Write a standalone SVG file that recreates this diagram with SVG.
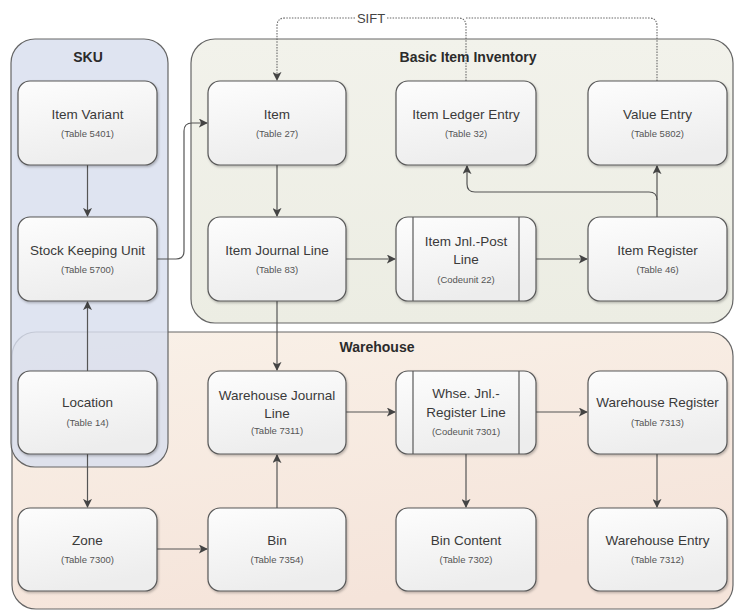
<svg xmlns="http://www.w3.org/2000/svg" width="736" height="612" viewBox="0 0 736 612">
  <defs>
    <linearGradient id="nodeFill" x1="0" y1="0" x2="0.3" y2="1">
      <stop offset="0" stop-color="#fdfdfd"/>
      <stop offset="1" stop-color="#ededed"/>
    </linearGradient>
    <linearGradient id="whseFill" x1="0" y1="0" x2="0.4" y2="1">
      <stop offset="0" stop-color="#f9f1e8"/>
      <stop offset="1" stop-color="#f5e4da"/>
    </linearGradient>
    <linearGradient id="biiFill" x1="0" y1="0" x2="0" y2="1">
      <stop offset="0" stop-color="#f2f2eb"/>
      <stop offset="1" stop-color="#ecede3"/>
    </linearGradient>
    <filter id="shadow" x="-10%" y="-10%" width="125%" height="130%">
      <feDropShadow dx="1" dy="1.5" stdDeviation="1.2" flood-color="#000" flood-opacity="0.25"/>
    </filter>
    <marker id="arrow" viewBox="0 0 10 10" refX="9" refY="5" markerWidth="9" markerHeight="9" markerUnits="userSpaceOnUse" orient="auto">
      <path d="M0,0 L10,5 L0,10 L2.5,5 Z" fill="#444"/>
    </marker>
  </defs>
  <style>
    .group { stroke: #666; stroke-width: 1.2; }
    .node rect.box { fill: url(#nodeFill); stroke: #595959; stroke-width: 1.2; filter: url(#shadow); }
    .node line { stroke: #595959; stroke-width: 1.2; }
    text { font-family: "Liberation Sans", Arial, sans-serif; fill: #3a3a3a; text-anchor: middle; }
    .title { font-size: 13.5px; }
    .sub { font-size: 9.5px; fill: #555; }
    .glabel { font-size: 14px; font-weight: bold; fill: #2b2b2b; }
    .sift { font-size: 13px; fill: #444; }
    .conn path { fill: none; stroke: #555; stroke-width: 1.2; marker-end: url(#arrow); }
    .conn path.plain { marker-end: none; }
    .conn path.dot { stroke: #666; stroke-width: 1.1; stroke-dasharray: 1.5 1.3; }
  </style>

  <!-- containers -->
  <g id="group-warehouse">
    <rect class="group" x="12" y="332" width="721" height="277" rx="24" fill="url(#whseFill)"/>
    <text class="glabel" x="377" y="352">Warehouse</text>
  </g>
  <g id="group-basic-item-inventory">
    <rect class="group" x="191" y="39" width="542" height="284" rx="24" fill="url(#biiFill)"/>
    <text class="glabel" x="468" y="62">Basic Item Inventory</text>
  </g>
  <g id="group-sku">
    <rect class="group" x="11" y="39" width="157" height="428" rx="24" fill="#d8deee" fill-opacity="0.82"/>
    <text class="glabel" x="88" y="62">SKU</text>
  </g>

  <!-- connectors -->
  <g id="connectors" class="conn">
    <path d="M87.5,165 V216"/>
    <path d="M87.5,371 V302"/>
    <path d="M157,259 H176 Q184,259 184,251 V131 Q184,123 192,123 H207"/>
    <path d="M277,165 V216"/>
    <path d="M346,259 H395"/>
    <path d="M536,259 H587"/>
    <path d="M657,217 V166"/>
    <path d="M657,200 Q657,192 649,192 H475 Q467,192 467,184 V166"/>
    <path d="M277,301 V370"/>
    <path d="M346,412 H395"/>
    <path d="M536,412 H587"/>
    <path d="M466,454 V507"/>
    <path d="M657,454 V507"/>
    <path d="M87.5,454 V507"/>
    <path d="M157,549 H207"/>
    <path d="M277,508 V455"/>
    <!-- SIFT dotted links -->
    <path class="dot" d="M355,18 H285 Q277,18 277,26 V80"/>
    <path class="dot plain" d="M387,18 H458 Q466,18 466,26 V81"/>
    <path class="dot plain" d="M466,18 H649 Q657,18 657,26 V81"/>
  </g>
  <text class="sift" x="371" y="22.5">SIFT</text>

  <!-- nodes -->
  <g id="item-variant" class="node">
    <rect class="box" x="18" y="81" width="139" height="84" rx="12"/>
    <text class="title" x="87.5" y="119">Item Variant</text>
    <text class="sub" x="87.5" y="137">(Table 5401)</text>
  </g>
  <g id="item" class="node">
    <rect class="box" x="208" y="81" width="138" height="84" rx="12"/>
    <text class="title" x="277" y="119">Item</text>
    <text class="sub" x="277" y="137">(Table 27)</text>
  </g>
  <g id="item-ledger-entry" class="node">
    <rect class="box" x="396" y="81" width="140" height="84" rx="12"/>
    <text class="title" x="466" y="119">Item Ledger Entry</text>
    <text class="sub" x="466" y="137">(Table 32)</text>
  </g>
  <g id="value-entry" class="node">
    <rect class="box" x="588" y="81" width="139" height="84" rx="12"/>
    <text class="title" x="657.5" y="119">Value Entry</text>
    <text class="sub" x="657.5" y="137">(Table 5802)</text>
  </g>

  <g id="stock-keeping-unit" class="node">
    <rect class="box" x="18" y="217" width="139" height="84" rx="12"/>
    <text class="title" x="87.5" y="255">Stock Keeping Unit</text>
    <text class="sub" x="87.5" y="273">(Table 5700)</text>
  </g>
  <g id="item-journal-line" class="node">
    <rect class="box" x="208" y="217" width="138" height="84" rx="12"/>
    <text class="title" x="277" y="255">Item Journal Line</text>
    <text class="sub" x="277" y="273">(Table 83)</text>
  </g>
  <g id="item-jnl-post-line" class="node">
    <rect class="box" x="396" y="217" width="140" height="84" rx="12"/>
    <line x1="413" y1="217" x2="413" y2="301"/>
    <line x1="519" y1="217" x2="519" y2="301"/>
    <text class="title" x="466" y="246">Item Jnl.-Post</text>
    <text class="title" x="466" y="264">Line</text>
    <text class="sub" x="466" y="283">(Codeunit 22)</text>
  </g>
  <g id="item-register" class="node">
    <rect class="box" x="588" y="217" width="139" height="84" rx="12"/>
    <text class="title" x="657.5" y="255">Item Register</text>
    <text class="sub" x="657.5" y="273">(Table 46)</text>
  </g>

  <g id="location" class="node">
    <rect class="box" x="18" y="371" width="139" height="83" rx="12"/>
    <text class="title" x="87.5" y="407">Location</text>
    <text class="sub" x="87.5" y="426">(Table 14)</text>
  </g>
  <g id="warehouse-journal-line" class="node">
    <rect class="box" x="208" y="371" width="138" height="83" rx="12"/>
    <text class="title" x="277" y="400">Warehouse Journal</text>
    <text class="title" x="277" y="418">Line</text>
    <text class="sub" x="277" y="434">(Table 7311)</text>
  </g>
  <g id="whse-jnl-register-line" class="node">
    <rect class="box" x="396" y="371" width="140" height="83" rx="12"/>
    <line x1="413" y1="371" x2="413" y2="454"/>
    <line x1="519" y1="371" x2="519" y2="454"/>
    <text class="title" x="466" y="398">Whse. Jnl.-</text>
    <text class="title" x="466" y="417">Register Line</text>
    <text class="sub" x="466" y="435">(Codeunit 7301)</text>
  </g>
  <g id="warehouse-register" class="node">
    <rect class="box" x="588" y="371" width="139" height="83" rx="12"/>
    <text class="title" x="657.5" y="407">Warehouse Register</text>
    <text class="sub" x="657.5" y="426">(Table 7313)</text>
  </g>

  <g id="zone" class="node">
    <rect class="box" x="18" y="508" width="139" height="83" rx="12"/>
    <text class="title" x="87.5" y="545">Zone</text>
    <text class="sub" x="87.5" y="563">(Table 7300)</text>
  </g>
  <g id="bin" class="node">
    <rect class="box" x="208" y="508" width="138" height="83" rx="12"/>
    <text class="title" x="277" y="545">Bin</text>
    <text class="sub" x="277" y="563">(Table 7354)</text>
  </g>
  <g id="bin-content" class="node">
    <rect class="box" x="396" y="508" width="140" height="83" rx="12"/>
    <text class="title" x="466" y="545">Bin Content</text>
    <text class="sub" x="466" y="563">(Table 7302)</text>
  </g>
  <g id="warehouse-entry" class="node">
    <rect class="box" x="588" y="508" width="139" height="83" rx="12"/>
    <text class="title" x="657.5" y="545">Warehouse Entry</text>
    <text class="sub" x="657.5" y="563">(Table 7312)</text>
  </g>
</svg>
